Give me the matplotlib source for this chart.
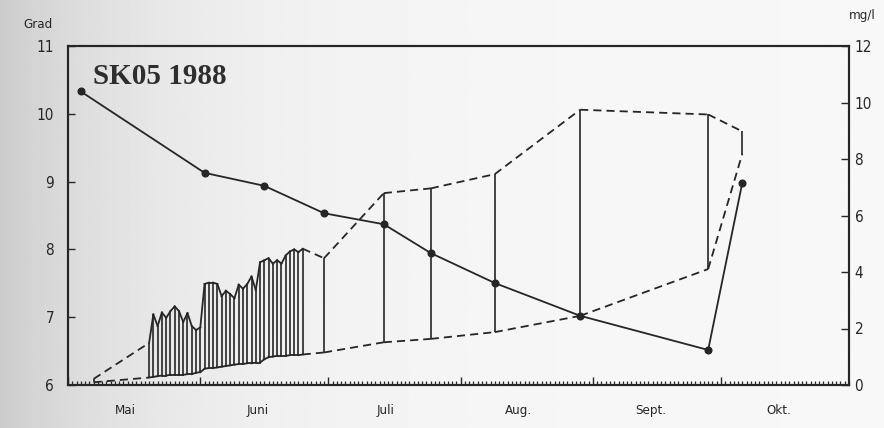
import numpy as np
import matplotlib
matplotlib.use("Agg")
import matplotlib.pyplot as plt
from matplotlib.ticker import FixedLocator, MultipleLocator

# Day numbers are counted from 1 May 1988 (day 0)
oxygen_day = [3, 32, 46, 60, 74, 85, 100, 120, 150, 158]
oxygen_mgl = [10.39, 7.51, 7.05, 6.08, 5.69, 4.67, 3.61, 2.45, 1.24, 7.16]

temp_day = [6, 19, 20, 21, 22, 23, 24, 25, 26, 27, 28, 29, 30, 31, 32, 33,
            34, 35, 36, 37, 38, 39, 40, 41, 42, 43, 44, 45, 46, 47, 48, 49,
            50, 51, 52, 53, 54, 55, 60, 74, 85, 100, 120, 150, 158]
temp_max = [6.09, 6.62, 7.04, 6.87, 7.07, 6.99, 7.09, 7.16, 7.09, 6.93, 7.06,
            6.87, 6.81, 6.85, 7.49, 7.51, 7.51, 7.49, 7.31, 7.39, 7.34, 7.28,
            7.48, 7.42, 7.49, 7.60, 7.40, 7.81, 7.84, 7.87, 7.79, 7.84, 7.79,
            7.91, 7.97, 8.00, 7.96, 8.01, 7.87, 8.83, 8.90, 9.11, 10.06, 9.99,
            9.74]
temp_min = [6.04, 6.11, 6.12, 6.13, 6.14, 6.14, 6.15, 6.15, 6.15, 6.15, 6.16,
            6.16, 6.18, 6.19, 6.24, 6.25, 6.25, 6.26, 6.27, 6.28, 6.29, 6.30,
            6.31, 6.31, 6.32, 6.32, 6.33, 6.33, 6.38, 6.41, 6.42, 6.43, 6.43,
            6.43, 6.44, 6.44, 6.44, 6.45, 6.48, 6.63, 6.68, 6.78, 7.02, 7.71,
            9.41]

month_start = [0, 31, 61, 92, 123, 153, 184]
month_names = ["Mai", "Juni", "Juli", "Aug.", "Sept.", "Okt."]
grad_ticks = [6, 7, 8, 9, 10, 11]
mgl_ticks = [0, 2, 4, 6, 8, 10, 12]

INK = "#262626"
TICKFONT = dict(family=["DejaVu Sans"], stretch="condensed")

W, H = 884, 428
fig = plt.figure(figsize=(W / 100, H / 100), dpi=100)

# paper tone of the printed page
bg = fig.add_axes([0, 0, 1, 1], zorder=-10)
xs = np.linspace(0, 1, 400)
tone = 0.80 + 0.17 * (1 - np.exp(-xs / 0.18))
bg.imshow(np.tile(tone, (10, 1)), cmap="gray", vmin=0, vmax=1,
          aspect="auto", extent=[0, 1, 0, 1])
bg.set_axis_off()

x0, x1, yb, yt = 68, 849, 385, 46
ax = fig.add_axes([x0 / W, 1 - yb / H, (x1 - x0) / W, (yb - yt) / H])
ax.set_facecolor("none")
ax.set_xlim(0, 183)
ax.set_ylim(6, 11)

# temperature ranges: vertical bar per measurement, envelope joins
for d, lo, hi in zip(temp_day, temp_min, temp_max):
    ax.plot([d, d], [lo, hi], color=INK, lw=1.2, solid_capstyle="butt")
for i in range(len(temp_day) - 1):
    gap = temp_day[i + 1] - temp_day[i]
    style = "-" if gap == 1 else (0, (4.5, 2.8))
    for series in (temp_max, temp_min):
        ax.plot(temp_day[i:i + 2], series[i:i + 2], color=INK, lw=1.3,
                linestyle=style)

# oxygen on the right-hand scale
ax2 = ax.twinx()
ax2.set_ylim(0, 12)
ax2.plot(oxygen_day, oxygen_mgl, color=INK, lw=1.3, marker="o",
         markersize=4.8, markerfacecolor=INK, markeredgecolor=INK)

for spine in list(ax.spines.values()) + list(ax2.spines.values()):
    spine.set_linewidth(1.5)
    spine.set_color(INK)

ax.xaxis.set_major_locator(FixedLocator(month_start))
ax.xaxis.set_minor_locator(MultipleLocator(1))
ax.tick_params(axis="x", which="major", direction="in", length=6, width=1.0,
               color=INK, labelbottom=False)
ax.tick_params(axis="x", which="minor", direction="in", length=3, width=0.9,
               color=INK)
ax.set_yticks(grad_ticks)
ax.tick_params(axis="y", direction="in", length=5, width=1.0, color=INK,
               pad=10, labelsize=11, labelcolor=INK)
ax2.set_yticks(mgl_ticks)
ax2.tick_params(axis="y", direction="in", length=6, width=1.0, color=INK,
                pad=4, labelsize=11, labelcolor=INK)
for lab in ax.get_yticklabels() + ax2.get_yticklabels():
    lab.set_family(TICKFONT["family"])
    lab.set_stretch(TICKFONT["stretch"])

for start, name in zip(month_start, month_names):
    ax.text(start + 13.5, -0.075, name, transform=ax.get_xaxis_transform(),
            ha="center", va="center", fontsize=9.5, color=INK, **TICKFONT)

fig.text(38 / W, 1 - 24 / H, "Grad", ha="center", va="center",
         fontsize=9.5, color=INK, **TICKFONT)
fig.text(862 / W, 1 - 16 / H, "mg/l", ha="center", va="center",
         fontsize=9.5, color=INK, **TICKFONT)
fig.text(93 / W, 1 - 84 / H, "SK05 1988", ha="left", va="baseline",
         fontsize=21, fontweight="bold", color="#2e2e2e",
         family=["Liberation Serif", "DejaVu Serif"])

fig.savefig("out.png", dpi=100)
